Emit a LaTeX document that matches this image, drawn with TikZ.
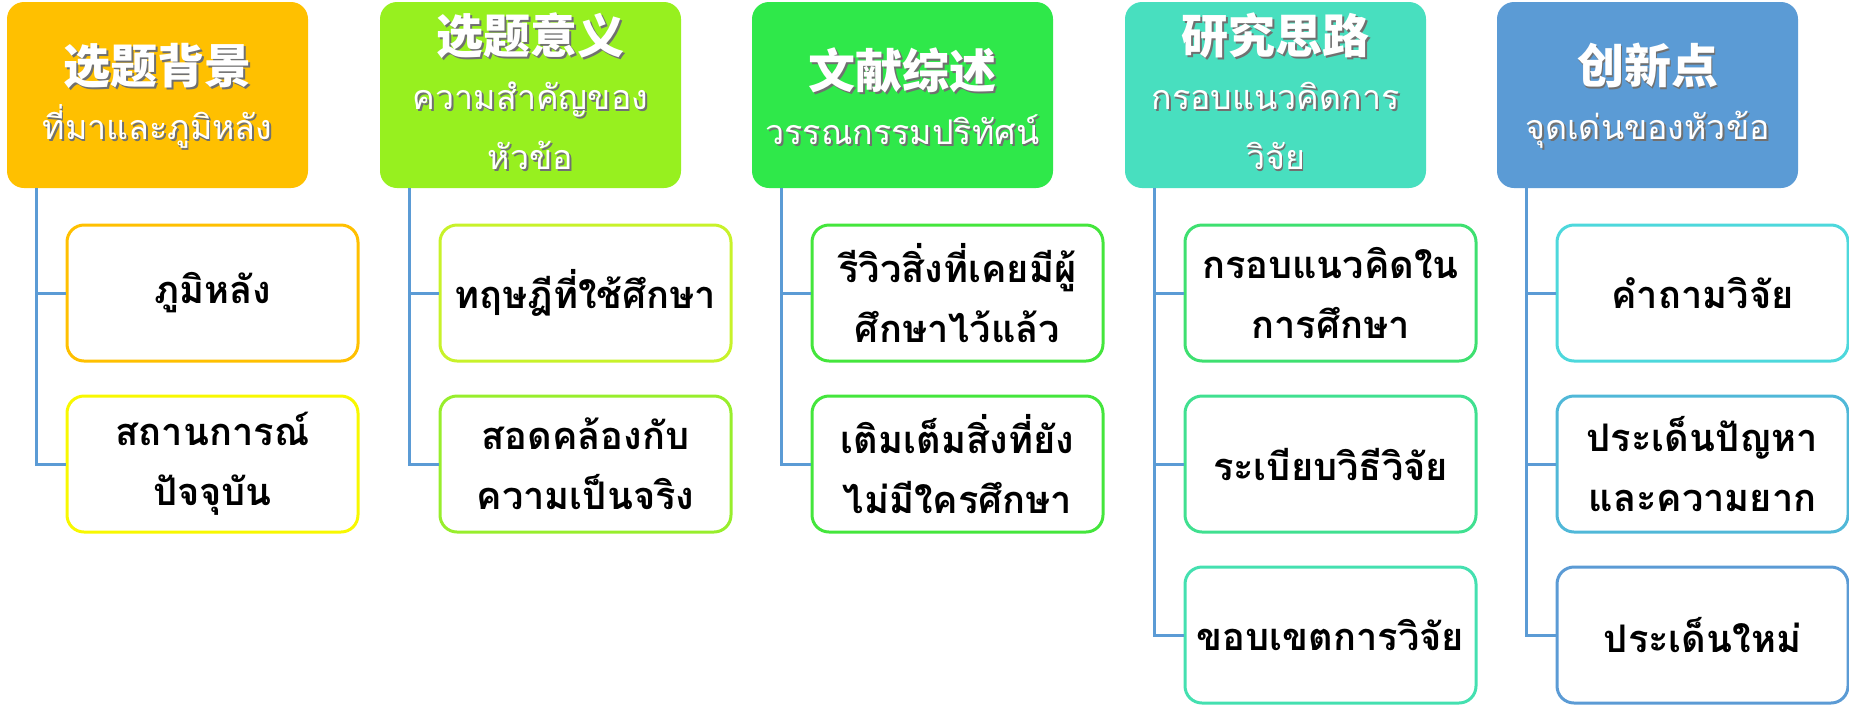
\documentclass[tikz,border=0pt]{standalone}
\usepackage{fontspec}
\newfontfamily\thai[Script=Thai]{Loma}
\newfontfamily\cjk{Noto Sans CJK SC}
\usetikzlibrary{calc}
\definecolor{hA}{HTML}{FFC000}
\definecolor{hB}{HTML}{97F01F}
\definecolor{hC}{HTML}{2FE84A}
\definecolor{hD}{HTML}{48DFBF}
\definecolor{hE}{HTML}{5B9BD5}
\definecolor{bA1}{HTML}{FFC000}
\definecolor{bA2}{HTML}{F8F800}
\definecolor{bB1}{HTML}{C8F22A}
\definecolor{bB2}{HTML}{98EE2C}
\definecolor{bC1}{HTML}{44E63C}
\definecolor{bC2}{HTML}{44E63C}
\definecolor{bD1}{HTML}{3EE070}
\definecolor{bD2}{HTML}{40E090}
\definecolor{bD3}{HTML}{44E0B0}
\definecolor{bE1}{HTML}{4DD8DC}
\definecolor{bE2}{HTML}{50B8D8}
\definecolor{bE3}{HTML}{5B9BD5}
\definecolor{linec}{HTML}{5B9BD5}
\definecolor{shadowc}{HTML}{707070}
\newcommand\shl[1]{\rlap{\kern1.8pt\raisebox{-1.8pt}{\textcolor{shadowc}{#1}}}#1}
\newcommand\zhl[1]{{\cjk\bfseries\fontsize{47}{60}\selectfont\shl{#1}}}
\newcommand\thl[1]{{\thai\fontsize{34}{60}\selectfont\shl{#1}}}
\tikzset{
  head/.style={rectangle, rounded corners=17pt, minimum width=301pt, minimum height=186pt,
    draw=none, fill=#1, text=white, align=center, inner sep=0pt,
    font=\fontsize{34}{60}\selectfont},
  leaf/.style={rectangle, rounded corners=17pt, minimum width=291pt, minimum height=136pt,
    draw=#1, line width=3pt, fill=white, text=black, align=center, inner sep=0pt,
    font=\thai\bfseries\fontsize{38}{60}\selectfont},
  conn/.style={draw=linec, line width=3pt}
}
\begin{document}
\begin{tikzpicture}[x=1pt,y=-1pt]
\useasboundingbox (0,0) rectangle (1849,705);
% headers
\node[head=hA] (h1) at (157.5,95) {};
\node[head=hB] (h2) at (530.5,95) {};
\node[head=hC] (h3) at (902.5,95) {};
\node[head=hD] (h4) at (1275.5,95) {};
\node[head=hE] (h5) at (1647.5,95) {};
\node[head=hA, draw=none, fill=none, minimum width=0pt, minimum height=0pt] (t1) at (157.5,97) {\zhl{选题背景}\\[-4pt]\thl{ที่มาและภูมิหลัง}};
\node[head=hB, draw=none, fill=none, minimum width=0pt, minimum height=0pt] (t2) at (530.5,92) {\zhl{选题意义}\\[-4pt]\thl{ความสำคัญของ}\\\thl{หัวข้อ}};
\node[head=hC, draw=none, fill=none, minimum width=0pt, minimum height=0pt] (t3) at (902.5,97) {\zhl{文献综述}\\[-4pt]\thl{วรรณกรรมปริทัศน์}};
\node[head=hD, draw=none, fill=none, minimum width=0pt, minimum height=0pt] (t4) at (1275.5,92) {\zhl{研究思路}\\[-4pt]\thl{กรอบแนวคิดการ}\\\thl{วิจัย}};
\node[head=hE, draw=none, fill=none, minimum width=0pt, minimum height=0pt] (t5) at (1647.5,97) {\zhl{创新点}\\[-4pt]\thl{จุดเด่นของหัวข้อ}};
% leaves
\node[leaf=bA1] (c11) at (212.5,293) {ภูมิหลัง};
\node[leaf=bA2] (c12) at (212.5,464) {สถานการณ์\\ปัจจุบัน};
\node[leaf=bB1] (c21) at (585.5,293) {ทฤษฎีที่ใช้ศึกษา};
\node[leaf=bB2] (c22) at (585.5,464) {สอดคล้องกับ\\ความเป็นจริง};
\node[leaf=bC1] (c31) at (957.5,293) {รีวิวสิ่งที่เคยมีผู้\\ศึกษาไว้แล้ว};
\node[leaf=bC2] (c32) at (957.5,464) {เติมเต็มสิ่งที่ยัง\\ไม่มีใครศึกษา};
\node[leaf=bD1] (c41) at (1330.5,293) {กรอบแนวคิดใน\\การศึกษา};
\node[leaf=bD2] (c42) at (1330.5,464) {ระเบียบวิธีวิจัย};
\node[leaf=bD3] (c43) at (1330.5,635) {ขอบเขตการวิจัย};
\node[leaf=bE1] (c51) at (1702.5,293) {คำถามวิจัย};
\node[leaf=bE2] (c52) at (1702.5,464) {ประเด็นปัญหา\\และความยาก};
\node[leaf=bE3] (c53) at (1702.5,635) {ประเด็นใหม่};
% connectors
\foreach \h/\leaves in {h1/{c11,c12}, h2/{c21,c22}, h3/{c31,c32}, h4/{c41,c42,c43}, h5/{c51,c52,c53}}{
  \foreach \c in \leaves {
    \draw[conn] ($(\h.south west)+(30,0)$) |- (\c.west);
  }
}
\end{tikzpicture}
\end{document}
